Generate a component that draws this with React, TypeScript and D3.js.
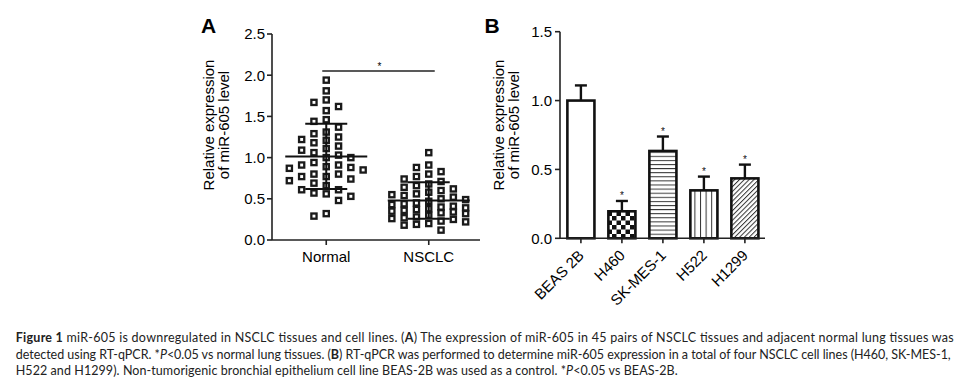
import * as d3 from 'd3';

// panel A: relative miR-605 expression in tissues
const groups = ['Normal', 'NSCLC'];
const normalValues = [
  1.94, 1.81, 1.70, 1.67, 1.62, 1.57, 1.46, 1.44, 1.37, 1.31,
  1.29, 1.25, 1.21, 1.22, 1.18, 1.14, 1.09, 1.11, 1.06, 1.03,
  1.00, 1.00, 0.88, 0.91, 0.94, 0.89, 0.85, 0.87, 0.91, 0.77,
  0.74, 0.80, 0.72, 0.77, 0.80, 0.66, 0.61, 0.69, 0.57, 0.61,
  0.53, 0.56, 0.48, 0.29, 0.32,
];
const nsclcValues = [
  1.06, 0.91, 0.88, 0.83, 0.80, 0.77, 0.74, 0.71, 0.68, 0.66,
  0.64, 0.62, 0.60, 0.58, 0.56, 0.55, 0.54, 0.52, 0.50, 0.49,
  0.47, 0.45, 0.44, 0.43, 0.41, 0.40, 0.39, 0.38, 0.37, 0.36,
  0.35, 0.34, 0.33, 0.32, 0.30, 0.28, 0.27, 0.26, 0.25, 0.23,
  0.22, 0.20, 0.19, 0.18, 0.12,
];
const yTicksA = [0, 0.5, 1.0, 1.5, 2.0, 2.5];
const sigLevel = 2.05;

// panel B: cell lines
const cellLines = ['BEAS 2B', 'H460', 'SK-MES-1', 'H522', 'H1299'];
const cellMeans = [1.0, 0.196, 0.634, 0.348, 0.435];
const cellErrors = [0.11, 0.075, 0.105, 0.10, 0.10];
const cellStars = [false, true, true, true, true];
const cellFills = ['#fff', 'url(#checker)', 'url(#hlines)', 'url(#vlines)', 'url(#diag)'];
const yTicksB = [0, 0.5, 1.0, 1.5];

const W = 971;
const H = 387;
const FONT = '"Liberation Sans", Arial, sans-serif';
const CAP_FONT = 'Lato, "Open Sans", sans-serif';

// simple column swarm like the scatter-dot layout
function swarm(values: number[], y: (v: number) => number, gap: number, maxCol: number) {
  const placed: { v: number; col: number; py: number }[] = [];
  const order = values.map((_, i) => i).sort((a, b) => values[b] - values[a]);
  const cols = [0];
  for (let k = 1; k <= maxCol; k++) cols.push(-k, k);
  order.forEach(i => {
    const py = y(values[i]);
    let best = 0;
    let bestD = -1;
    for (const c of cols) {
      const same = placed.filter(p => p.col === c);
      const d = same.length ? (d3.min(same, p => Math.abs(p.py - py)) as number) : Infinity;
      if (d >= gap) { best = c; break; }
      if (d > bestD) { bestD = d; best = c; }
    }
    placed.push({ v: values[i], col: best, py });
  });
  return placed;
}

const PanelA = () => {
  const y = d3.scaleLinear().domain([0, 2.5]).range([240, 34]);
  const x = d3.scalePoint<string>().domain(groups).range([275, 480]).padding(0.5);
  const axisX0 = 272;
  const step = 12.3;
  const sq = 5.2;
  const series = [normalValues, nsclcValues];

  return (
    <g fontFamily={FONT}>
      <text x={201} y={32.5} fontSize={21} fontWeight="bold">A</text>
      <g transform="translate(214,125) rotate(-90)" fontSize={15} textAnchor="middle">
        <text x={0} y={0}>Relative expression</text>
        <text x={0} y={15}>of miR-605 level</text>
      </g>

      {/* axes */}
      <line x1={axisX0} x2={axisX0} y1={y(2.5)} y2={y(0)} stroke="#222" strokeWidth={1.6} />
      <line x1={axisX0} x2={480} y1={y(0)} y2={y(0)} stroke="#222" strokeWidth={1.6} />
      {yTicksA.map(t => (
        <g key={t}>
          <line x1={axisX0 - 5} x2={axisX0} y1={y(t)} y2={y(t)} stroke="#222" strokeWidth={1.6} />
          <text x={axisX0 - 7} y={y(t)} dy="0.36em" textAnchor="end" fontSize={15}>{t.toFixed(1)}</text>
        </g>
      ))}
      {groups.map(g => (
        <g key={g}>
          <line x1={x(g)} x2={x(g)} y1={y(0)} y2={y(0) + 5} stroke="#222" strokeWidth={1.6} />
          <text x={x(g)} y={261.5} textAnchor="middle" fontSize={15}>{g}</text>
        </g>
      ))}

      {/* points */}
      {series.map((vals, gi) => {
        const cx = x(groups[gi]) as number;
        const pts = swarm(vals, y, 8, 3);
        const m = d3.mean(vals) as number;
        const sd = d3.deviation(vals) as number;
        return (
          <g key={gi}>
            {pts.map((p, i) => (
              <rect key={i} x={cx + p.col * step - sq / 2} y={p.py - sq / 2} width={sq} height={sq}
                fill="none" stroke="#1a1a1a" strokeWidth={2.3} />
            ))}
            <line x1={cx - 41} x2={cx + 41} y1={y(m)} y2={y(m)} stroke="#111" strokeWidth={2} />
            <line x1={cx - 21} x2={cx + 21} y1={y(m + sd)} y2={y(m + sd)} stroke="#111" strokeWidth={2} />
            <line x1={cx - 21} x2={cx + 21} y1={y(m - sd)} y2={y(m - sd)} stroke="#111" strokeWidth={2} />
            <line x1={cx} x2={cx} y1={y(m + sd)} y2={y(m - sd)} stroke="#111" strokeWidth={2} />
          </g>
        );
      })}

      {/* significance */}
      <line x1={(x('Normal') as number) - 4} x2={(x('NSCLC') as number) + 6} y1={y(sigLevel)} y2={y(sigLevel)}
        stroke="#222" strokeWidth={1.5} />
      <text x={((x('Normal') as number) + (x('NSCLC') as number)) / 2 + 2} y={y(sigLevel) - 1.5}
        textAnchor="middle" fontSize={10}>*</text>
    </g>
  );
};

const PanelB = () => {
  const y = d3.scaleLinear().domain([0, 1.5]).range([238.3, 31.7]);
  const x = d3.scaleBand<string>().domain(cellLines).range([560, 765.8]).paddingInner(0.34).paddingOuter(0.18);
  const axisX0 = 560;
  const bw = x.bandwidth();

  return (
    <g fontFamily={FONT}>
      <defs>
        <pattern id="checker" patternUnits="userSpaceOnUse" width={9} height={9} x={0} y={0}>
          <rect width={9} height={9} fill="#fff" />
          <rect width={4.5} height={4.5} fill="#111" />
          <rect x={4.5} y={4.5} width={4.5} height={4.5} fill="#111" />
        </pattern>
        <pattern id="hlines" patternUnits="userSpaceOnUse" width={8} height={4.1}>
          <rect width={8} height={4.1} fill="#fff" />
          <line x1={0} x2={8} y1={0.5} y2={0.5} stroke="#333" strokeWidth={1} />
        </pattern>
        <pattern id="vlines" patternUnits="userSpaceOnUse" width={5.6} height={8}>
          <rect width={5.6} height={8} fill="#fff" />
          <line x1={0.5} x2={0.5} y1={0} y2={8} stroke="#333" strokeWidth={1} />
        </pattern>
        <pattern id="diag" patternUnits="userSpaceOnUse" width={3.4} height={8} patternTransform="rotate(45)">
          <rect width={3.4} height={8} fill="#fff" />
          <line x1={0.5} x2={0.5} y1={0} y2={8} stroke="#333" strokeWidth={1} />
        </pattern>
      </defs>

      <text x={484.5} y={32.5} fontSize={21} fontWeight="bold">B</text>
      <g transform="translate(504,125) rotate(-90)" fontSize={15} textAnchor="middle">
        <text x={0} y={0}>Relative expression</text>
        <text x={0} y={15}>of miR-605 level</text>
      </g>

      {/* bars */}
      {cellLines.map((c, i) => {
        const bx = x(c) as number;
        const cx = bx + bw / 2;
        const top = y(cellMeans[i]);
        const errTop = y(cellMeans[i] + cellErrors[i]);
        return (
          <g key={c}>
            <line x1={cx} x2={cx} y1={top} y2={errTop} stroke="#111" strokeWidth={2.4} />
            <line x1={cx - 6} x2={cx + 6} y1={errTop} y2={errTop} stroke="#111" strokeWidth={2.4} />
            <rect x={bx} y={top} width={bw} height={y(0) - top} fill={cellFills[i]} stroke="#111" strokeWidth={2.6} />
            {cellStars[i] && (
              <text x={cx} y={errTop - 2} textAnchor="middle" fontSize={10} fill="#111">*</text>
            )}
          </g>
        );
      })}

      {/* axes */}
      <line x1={axisX0} x2={765} y1={y(0)} y2={y(0)} stroke="#222" strokeWidth={1.6} />
      <line x1={axisX0} x2={axisX0} y1={y(1.5)} y2={y(0)} stroke="#222" strokeWidth={1.6} />
      {yTicksB.map(t => (
        <g key={t}>
          <line x1={axisX0 - 5} x2={axisX0} y1={y(t)} y2={y(t)} stroke="#222" strokeWidth={1.6} />
          <text x={axisX0 - 8} y={y(t)} dy="0.36em" textAnchor="end" fontSize={15}>{t.toFixed(1)}</text>
        </g>
      ))}
      {cellLines.map(c => {
        const cx = (x(c) as number) + bw / 2;
        return (
          <g key={c}>
            <line x1={cx} x2={cx} y1={y(0)} y2={y(0) + 5} stroke="#222" strokeWidth={1.6} />
            <text transform={`translate(${cx + 4},${y(0) + 18}) rotate(-45)`} textAnchor="end"
              fontSize={15}>{c}</text>
          </g>
        );
      })}
    </g>
  );
};

const Caption = () => (
  <g fontFamily={CAP_FONT} fontSize={12.5} fill="#222">
    <text x={15.7} y={342} textLength={938} lengthAdjust="spacing">
      <tspan fontWeight="bold">Figure 1</tspan> miR-605 is downregulated in NSCLC tissues and cell lines. (<tspan fontWeight="bold">A</tspan>) The expression of miR-605 in 45 pairs of NSCLC tissues and adjacent normal lung tissues was
    </text>
    <text x={15.7} y={358.7} textLength={935} lengthAdjust="spacing">
      detected using RT-qPCR. *<tspan fontStyle="italic">P</tspan>&lt;0.05 vs normal lung tissues. (<tspan fontWeight="bold">B</tspan>) RT-qPCR was performed to determine miR-605 expression in a total of four NSCLC cell lines (H460, SK-MES-1,
    </text>
    <text x={15.7} y={375.4} textLength={662} lengthAdjust="spacing">
      H522 and H1299). Non-tumorigenic bronchial epithelium cell line BEAS-2B was used as a control. *<tspan fontStyle="italic">P</tspan>&lt;0.05 vs BEAS-2B.
    </text>
  </g>
);

export default function App() {
  return (
    <svg width={W} height={H} viewBox={`0 0 ${W} ${H}`}
      style={{ position: 'absolute', left: 0, top: 0, background: '#fff' }}>
      <rect width={W} height={H} fill="#fff" />
      <PanelA />
      <PanelB />
      <Caption />
    </svg>
  );
}
